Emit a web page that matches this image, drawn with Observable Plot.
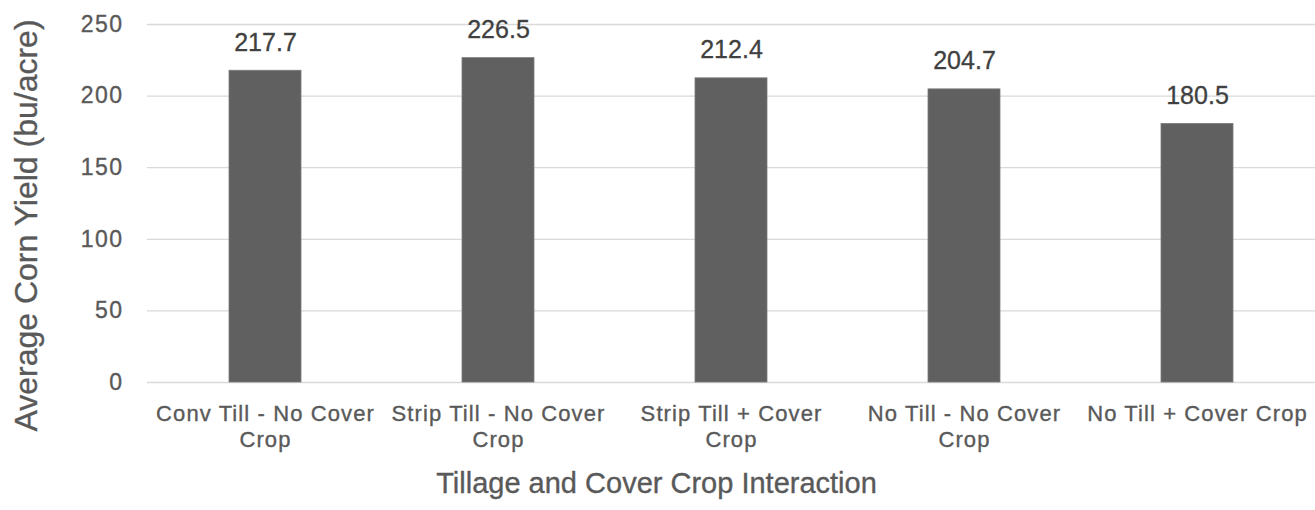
<!DOCTYPE html>
<html>
<head>
<meta charset="utf-8">
<script src="https://cdn.jsdelivr.net/npm/d3@7"></script>
<script src="https://cdn.jsdelivr.net/npm/@observablehq/plot@0.6"></script>
<style>
  html, body { margin: 0; padding: 0; background: #fff; }
  #chart svg { display: block; }
  #chart g[aria-label="y-axis tick label"] { letter-spacing: 1.5px; }
  #chart g[aria-label="x-axis tick label"] { letter-spacing: 1.1px; }
  #chart g[aria-label="value labels"] { letter-spacing: 0px; }
  #chart g[aria-label="x title"] { letter-spacing: 0.9px; }
  #chart g[aria-label="y title"] { letter-spacing: 1.2px; }
  #chart text { stroke: currentColor; stroke-width: 0.35px; }
</style>
</head>
<body>
<div id="chart"></div>
<script>
const categories = [
  "Conv Till - No Cover Crop",
  "Strip Till - No Cover Crop",
  "Strip Till + Cover Crop",
  "No Till - No Cover Crop",
  "No Till + Cover Crop"
];
const yields = [217.7, 226.5, 212.4, 204.7, 180.5];
const tickLabels = [
  "Conv Till - No Cover\nCrop",
  "Strip Till - No Cover\nCrop",
  "Strip Till + Cover\nCrop",
  "No Till - No Cover\nCrop",
  "No Till + Cover Crop"
];
const yTicks = [0, 50, 100, 150, 200, 250];
const xTitle = "Tillage and Cover Crop Interaction";
const yTitle = "Average Corn Yield (bu/acre)";

const data = categories.map((c, i) => ({category: c, value: yields[i]}));
const textColor = "#595959";

const chart = Plot.plot({
  width: 1315,
  height: 510,
  marginLeft: 147,
  marginRight: 0,
  marginTop: 24,
  marginBottom: 128,
  style: {fontFamily: "'Liberation Sans', Arial, sans-serif", color: textColor, background: "#fff"},
  x: {domain: categories, paddingInner: 0.69, paddingOuter: 0.345},
  y: {domain: [0, 250]},
  marks: [
    Plot.gridY(yTicks, {stroke: "#d9d9d9", strokeOpacity: 1, strokeWidth: 1.3}),
    Plot.barY(data, {x: "category", y: "value", fill: "#606060", stroke: "#7a7a7a", strokeWidth: 0.8}),
    Plot.text(data, {x: "category", y: "value", text: d => d.value.toFixed(1), dy: -28, fontSize: 25, fill: "#404040", stroke: "#404040", strokeWidth: 0.35, ariaLabel: "value labels"}),
    Plot.axisY(yTicks, {tickSize: 0, tickPadding: 24, fontSize: 23, label: null, fill: textColor}),
    Plot.axisX({tickSize: 0, tickPadding: 19, fontSize: 22, lineHeight: 1.22, label: null, fill: textColor,
      tickFormat: d => tickLabels[categories.indexOf(d)]}),
    Plot.text([xTitle], {frameAnchor: "bottom", dx: -75, dy: 110, fontSize: 29, fill: textColor, stroke: textColor, strokeWidth: 0.35, ariaLabel: "x title"}),
    Plot.text([yTitle], {frameAnchor: "left", textAnchor: "middle", rotate: -90, dx: -121, dy: 22, fontSize: 32, fill: textColor, stroke: textColor, strokeWidth: 0.35, ariaLabel: "y title"})
  ]
});
document.getElementById("chart").append(chart);
</script>
</body>
</html>
